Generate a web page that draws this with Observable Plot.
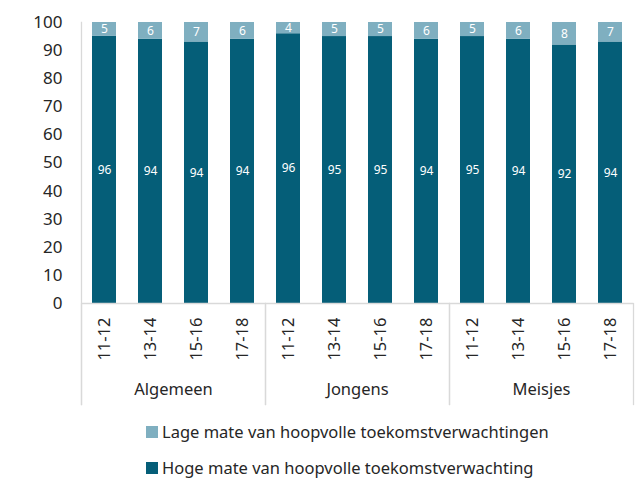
<!DOCTYPE html>
<html>
<head>
<meta charset="utf-8">
<script src="https://cdn.jsdelivr.net/npm/d3@7"></script>
<script src="https://cdn.jsdelivr.net/npm/@observablehq/plot@0.6"></script>
<style>
  body { margin: 0; background: #fff; font-family: "Noto Sans", Lato, sans-serif; color: #262626; }
  #legend { padding-left: 146px; font-size: 16.5px; line-height: 36px; margin-top: 4px; }
  .item { display: flex; align-items: center; white-space: nowrap; }
  .sw { width: 12px; height: 12px; margin-right: 4px; display: inline-block; }
</style>
</head>
<body>
<div id="chart"></div>
<div id="legend"></div>
<script>
const groups = ["Algemeen", "Jongens", "Meisjes"];
const ages = ["11-12", "13-14", "15-16", "17-18"];
const seriesNames = ["Hoge mate van hoopvolle toekomstverwachting", "Lage mate van hoopvolle toekomstverwachtingen"];
const hoog = [96, 94, 94, 94, 96, 95, 95, 94, 95, 94, 92, 94];
const laag = [5, 6, 7, 6, 4, 5, 5, 6, 5, 6, 8, 7];
const colors = ["#055E78", "#7FAFC0"];
const yTicks = [0, 10, 20, 30, 40, 50, 60, 70, 80, 90, 100];

const rows = [];
[hoog, laag].forEach((vals, s) => {
  vals.forEach((v, i) => {
    rows.push({
      group: groups[Math.floor(i / ages.length)],
      age: ages[i % ages.length],
      series: seriesNames[s],
      value: v
    });
  });
});

const stackOpts = {offset: "normalize"};
const chans = {fx: "group", x: "age", y: "value"};

const plot = Plot.plot({
  width: 637,
  height: 410,
  marginLeft: 80,
  marginRight: 3,
  marginTop: 22,
  marginBottom: 107,
  style: {fontFamily: "'Noto Sans', Lato, sans-serif", color: "#262626", background: "#fff"},
  fx: {domain: groups, padding: 0, label: null},
  x: {domain: ages, paddingInner: 0.48, paddingOuter: 0.24, label: null},
  y: {percent: true, domain: [0, 100], label: null},
  color: {domain: seriesNames, range: colors},
  marks: [
    Plot.barY(rows, Plot.stackY(stackOpts, {...chans, fill: "series"})),
    Plot.text(rows, Plot.stackY(stackOpts, {...chans, text: "value", fill: "white", fontSize: 12})),
    Plot.ruleY([0], {stroke: "#d9d9d9", strokeWidth: 1.3}),
    Plot.frame({anchor: "left", facetAnchor: "left", stroke: "#d9d9d9", strokeWidth: 1.3, insetBottom: -101}),
    Plot.frame({anchor: "left", stroke: "#d9d9d9", strokeWidth: 1.3, insetTop: 281, insetBottom: -101}),
    Plot.frame({anchor: "right", stroke: "#d9d9d9", strokeWidth: 1.3, insetTop: 281, insetBottom: -101}),
    Plot.axisY({ticks: yTicks, tickSize: 0, tickPadding: 19, fontSize: 17, label: null}),
    Plot.axisX({anchor: "bottom", tickRotate: -90, tickSize: 0, tickPadding: 14, fontSize: 16.5, label: null}),
    Plot.axisFx({anchor: "bottom", tickSize: 0, tickPadding: 0, dy: 80, fontSize: 16.5, label: null})
  ]
});
document.getElementById("chart").appendChild(plot);

const legend = document.getElementById("legend");
[1, 0].forEach(i => {
  const d = document.createElement("div");
  d.className = "item";
  const sw = document.createElement("span");
  sw.className = "sw";
  sw.style.background = colors[i];
  d.appendChild(sw);
  d.appendChild(document.createTextNode(seriesNames[i]));
  legend.appendChild(d);
});
</script>
</body>
</html>
